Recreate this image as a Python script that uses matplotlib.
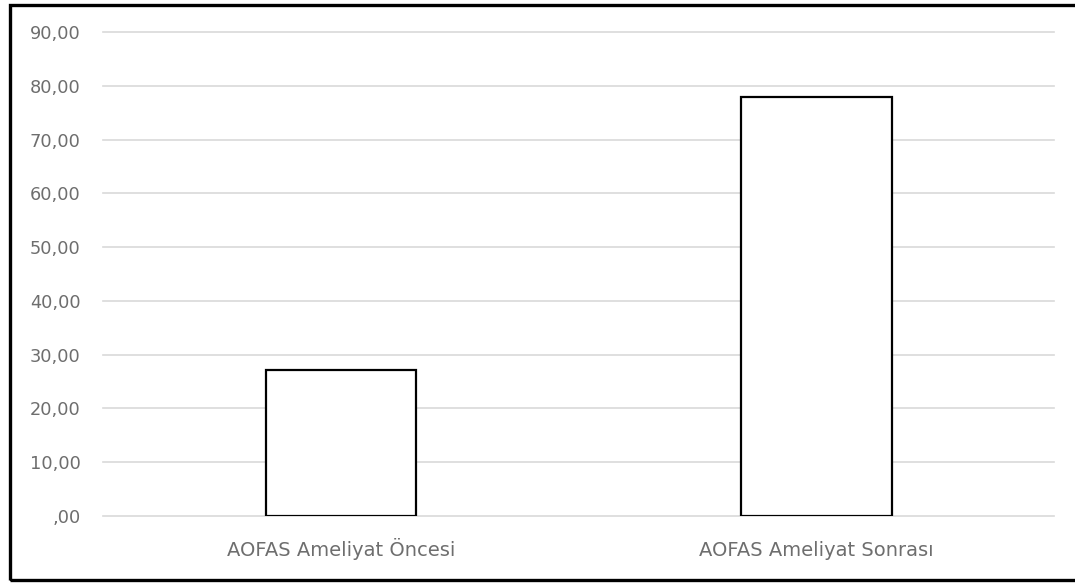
import numpy as np
import matplotlib.pyplot as plt
from matplotlib.patches import Rectangle
from matplotlib.ticker import FuncFormatter

plt.rcParams['font.family'] = ['DejaVu Sans']

categories = ['AOFAS Ameliyat Öncesi', 'AOFAS Ameliyat Sonrası']
values = [27.2, 77.9]
y_ticks = np.arange(0, 100, 10)


def tr_fmt(v, pos):
    s = f'{v:.2f}'.replace('.', ',')
    return s[1:] if s.startswith('0,') else s


fig = plt.figure(figsize=(10.75, 5.84), dpi=100)
ax = fig.add_axes([0.0958, 0.1164, 0.885, 0.8288])

ind = np.arange(len(categories))
ax.bar(ind, values, width=0.316, color='white', edgecolor='black',
       linewidth=1.6, zorder=3)

ax.set_xlim(-0.5, len(categories) - 0.5)
ax.set_ylim(0, 90)
ax.set_yticks(y_ticks)
ax.yaxis.set_major_formatter(FuncFormatter(tr_fmt))
ax.set_xticks(ind)
ax.set_xticklabels(categories)
ax.grid(axis='y', color='#d9d9d9', linewidth=1.2, zorder=0)
for gl in ax.get_ygridlines():
    gl.set_clip_on(False)
ax.tick_params(axis='both', length=0, colors='#6e6e6e')
ax.tick_params(axis='y', pad=16, labelsize=12.8)
ax.tick_params(axis='x', pad=29, labelsize=14)
for lbl in ax.get_xticklabels():
    lbl.set_va('baseline')
for sp in ax.spines.values():
    sp.set_visible(False)

# outer frame around the chart
fig.patches.append(Rectangle((9.5 / 1075, 4.5 / 584), 1.05, 575 / 584,
                             transform=fig.transFigure, fill=False,
                             edgecolor='black', linewidth=2.4))

plt.savefig('out.png', dpi=100)
